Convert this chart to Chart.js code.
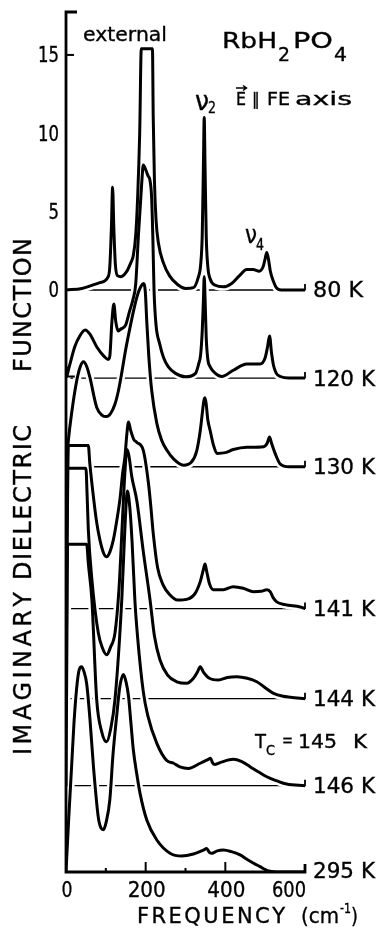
<!DOCTYPE html>
<html lang="en">
  <head>
    <meta charset="UTF-8" />
    <title>RbH2PO4 - imaginary dielectric function</title>
    <style>
      body {
        margin: 0;
        background: #fff;
      }
      canvas {
        display: block;
      }
    </style>
  </head>
  <body>
    <canvas id="spectra" width="385" height="928"></canvas>
    <script src="https://cdn.jsdelivr.net/npm/chart.js"></script>
    <script>
      // temperatures, one trace each, stacked with a baseline offset (in units of the 80 K scale)
      const temps = ["80 K", "120 K", "130 K", "141 K", "144 K", "146 K", "295 K"];
      const baselines = [0, -5.62, -11.28, -20.33, -26.08, -31.63, -37.14];

      // [frequency cm-1, eps'' above own baseline]
      const k80 = [[0,0],[40,0.1],[85,0.47],[106,0.85],[110,1.5],[114,4],[117,6.55],[120,4],[124,1.6],[130,0.9],[138,0.85],[152,1.17],[162,1.7],[169,2.2],[175,3.5],[180,6],[185,10],[189,15.4],[217,15.4],[219,11],[222,7],[226,4.5],[232,3.0],[245,1.7],[260,0.9],[280,0.35],[300,0.1],[320,0.15],[332,0.8],[338,1.6],[342,3.5],[345,8],[347,11],[349,8],[352,3.5],[356,1.5],[362,0.7],[375,0.3],[395,0.2],[415,0.4],[435,0.9],[454,1.3],[470,1.3],[485,1.2],[495,1.5],[500,2.0],[504,2.4],[508,2.0],[513,1.2],[520,0.6],[528,0.15],[540,0],[600,0]];
      const k120 = [[2,0.1],[10,0.9],[22,2.0],[35,2.7],[48,3.06],[60,2.8],[77,2.0],[95,1.4],[106,1.19],[110,1.4],[115,3.5],[120,4.72],[125,3.6],[131,3.0],[136,3.1],[150,3.4],[160,4.3],[168,5.0],[175,6.0],[182,9.2],[190,12.4],[194,13.6],[200,13.3],[206,12.9],[211,12.6],[215,11.5],[218,9],[221,5.6],[226,3.4],[235,2.2],[245,1.3],[257,0.72],[275,0.3],[300,0.08],[325,0.3],[333,0.9],[338,1.5],[342,3],[345,5],[347,6.46],[349,5.2],[352,2.6],[356,1.2],[362,0.72],[375,0.3],[391,0.1],[420,0.5],[454,0.9],[487,0.9],[500,1.3],[506,2.0],[511,2.68],[516,1.6],[521,0.8],[528,0.3],[538,0.1],[560,0],[600,0]];
      const k130 = [[0,0],[6,1.7],[14,3.4],[27,5.5],[36,6.4],[44,6.7],[52,6.4],[60,5.7],[77,3.8],[90,3.3],[102,3.2],[112,3.4],[123,4.0],[132,4.9],[140,6.0],[150,7.5],[160,8.8],[170,10],[180,11],[188,11.5],[194,11.7],[199,11.2],[203,9.15],[208,7],[215,4.9],[228,2.77],[240,1.7],[253,1.07],[270,0.5],[295,0.1],[315,0.3],[328,1.0],[337,2.3],[343,3.6],[346,4.2],[349,4.4],[352,4.0],[356,3.0],[362,2.3],[370,1.4],[379,0.85],[400,0.9],[420,1.1],[454,1.24],[496,1.28],[505,1.5],[511,1.9],[516,1.5],[525,0.85],[538,0.17],[560,0],[600,0]];
      const k141 = [[0,0],[3,5],[6,10.4],[56,10.4],[60,9.2],[69,7.1],[77,5.5],[85,4.4],[95,3.5],[102,3.3],[110,3.6],[119,4.4],[128,5.7],[136,7.1],[142,8.6],[148,9.7],[153,11.2],[157,11.9],[162,11.4],[170,10.8],[178,10.6],[194,10.1],[207,8.0],[213,6.5],[219,4.8],[230,2.6],[244,1.5],[260,0.9],[280,0.54],[305,0.6],[325,1.0],[338,1.8],[345,2.5],[349,2.84],[353,2.4],[360,1.6],[370,1.2],[395,1.2],[420,1.4],[445,1.3],[471,1.07],[490,1.1],[504,1.2],[512,1.1],[520,0.7],[529,0.43],[550,0.25],[588,0.1],[600,0]];
      const k144 = [[0,0],[2,7],[4,14.7],[50,14.7],[53,13],[56,10.8],[65,7.6],[81,4.2],[92,3.2],[102,2.8],[112,3.3],[123,4.2],[133,7],[141,11],[148,14.5],[153,15.9],[158,15.5],[165,14.2],[178,12.6],[194,9.4],[211,6.3],[222,4],[236,2.47],[255,1.5],[278,1.08],[303,0.98],[320,1.3],[330,1.7],[337,2.04],[345,1.7],[360,1.3],[383,1.19],[405,1.35],[429,1.4],[455,1.3],[479,1.08],[500,0.7],[521,0.34],[545,0.15],[563,0.09],[600,0]];
      const k146 = [[0,0],[2,8],[4,15.4],[52,15.4],[56,14.2],[65,11.85],[77,5.5],[90,3.4],[102,2.8],[112,3.6],[123,5.5],[140,11.85],[148,16.5],[154,18.8],[160,17.8],[166,15.5],[173,11.8],[180,9.4],[194,6.0],[205,4.5],[228,2.7],[253,1.6],[270,1.43],[286,1.2],[307,1.1],[337,1.43],[355,1.65],[363,1.75],[368,1.45],[374,1.35],[390,1.5],[420,1.68],[440,1.55],[462,1.21],[485,0.85],[504,0.57],[530,0.3],[554,0.1],[600,0]];
      const k295 = [[0,0],[7,3.5],[14,6.7],[20,9.5],[27,11.8],[33,12.9],[39,13.1],[45,12.8],[52,12.0],[60,9.8],[69,6.7],[81,3.5],[88,2.8],[94,2.7],[101,3.2],[110,4.6],[118,7.5],[127,9.9],[135,11.8],[144,12.6],[151,12.1],[157,11.2],[163,9.5],[169,7.8],[178,6.2],[186,5.0],[203,3.3],[228,2.04],[261,1.2],[290,1.02],[320,1.15],[345,1.4],[353,1.5],[360,1.25],[366,1.19],[380,1.35],[395,1.4],[415,1.3],[437,1.09],[455,0.8],[471,0.56],[487,0.34],[504,0.1],[521,0.02],[560,0],[600,0]];

      const xTicks = [0, 200, 400, 600];
      const xMinor = [100, 300, 500];
      const yTicks = [0, 5, 10, 15];

      const series = [k80, k120, k130, k141, k144, k146, k295];
      const FONT = "'DejaVu Sans', sans-serif";

      const datasets = [];
      series.forEach((pts, i) => {
        const toXY = () => pts.map(([f, e]) => ({ x: f, y: baselines[i] + e }));
        datasets.push({ label: temps[i], data: toXY(), borderColor: "#000", borderWidth: 3, order: 1 });
        // white halo so the thin baselines break where a trace crosses them
        datasets.push({ label: temps[i] + " gap", data: toXY(), borderColor: "#fff", borderWidth: 8, order: 2 });
        if (i < series.length - 1) {
          datasets.push({
            label: temps[i] + " base",
            data: [{ x: 0, y: baselines[i] }, { x: 600, y: baselines[i] }],
            borderColor: "#000",
            borderWidth: 1.3,
            cubicInterpolationMode: "default",
            tension: 0,
            order: 3,
          });
        }
      });

      // the old plotter lettering is a bit heavier than DejaVu Book
      function ink(ctx, txt, x, y) {
        ctx.fillText(txt, x, y);
        ctx.strokeText(txt, x, y);
      }

      // text squeezed/stretched to a given width, by = glyph bottom
      function fitText(ctx, txt, x, by, width, size, align = "left") {
        ctx.font = size + "px " + FONT;
        const w = ctx.measureText(txt).width;
        const left = align === "left" ? x : align === "right" ? x - width : x - width / 2;
        ctx.save();
        ctx.translate(left, by);
        ctx.scale(width / w, 1);
        ctx.textAlign = "left";
        ctx.textBaseline = "alphabetic";
        ctx.lineWidth = 0.35;
        ink(ctx, txt, 0, 0);
        ctx.restore();
      }

      // letter spaced text, spread over width
      function spacedText(ctx, txt, x, by, width, size) {
        ctx.font = size + "px " + FONT;
        ctx.textAlign = "left";
        ctx.textBaseline = "alphabetic";
        ctx.lineWidth = 0.35;
        const chars = [...txt];
        const total = chars.reduce((s, c) => s + ctx.measureText(c).width, 0);
        const gap = (width - total) / (chars.length - 1);
        let cx = x;
        chars.forEach((c) => {
          ink(ctx, c, cx, by);
          cx += ctx.measureText(c).width + gap;
        });
      }

      const decor = {
        id: "decor",
        afterDatasetsDraw(chart) {
          const { ctx } = chart;
          const xs = chart.scales.x;
          const ys = chart.scales.y;
          const px = (v) => xs.getPixelForValue(v);
          const py = (v) => ys.getPixelForValue(v);
          ctx.save();
          ctx.strokeStyle = "#000";
          ctx.fillStyle = "#000";

          // axis frame: left axis with top bracket, bottom axis
          ctx.lineWidth = 2.8;
          ctx.lineCap = "butt";
          ctx.beginPath();
          ctx.moveTo(px(0) + 11, py(ys.max));
          ctx.lineTo(px(0), py(ys.max));
          ctx.lineTo(px(0), py(ys.min));
          ctx.lineTo(px(600), py(ys.min));
          ctx.lineTo(px(600), py(ys.min) - 8);
          ctx.stroke();
          ctx.lineWidth = 2;
          ctx.beginPath();
          ctx.moveTo(px(0), py(15));
          ctx.lineTo(px(0) + 8, py(15));
          ctx.stroke();

          // x ticks
          ctx.lineWidth = 2;
          xTicks.slice(1, -1).forEach((v) => {
            ctx.beginPath();
            ctx.moveTo(px(v), py(ys.min));
            ctx.lineTo(px(v), py(ys.min) - 10);
            ctx.stroke();
          });
          xMinor.forEach((v) => {
            ctx.beginPath();
            ctx.moveTo(px(v), py(ys.min));
            ctx.lineTo(px(v), py(ys.min) - 4);
            ctx.stroke();
          });

          // end ticks of the baselines
          ctx.lineWidth = 1.8;
          baselines.slice(0, -1).forEach((b) => {
            ctx.beginPath();
            ctx.moveTo(px(600), py(b) + 0.5);
            ctx.lineTo(px(600), py(b) - 6);
            ctx.stroke();
          });

          // arrow at start of the 120 K trace
          const a0 = k120[0];
          const ax = px(a0[0]);
          const ay = py(baselines[1] + a0[1]);
          ctx.lineWidth = 2.2;
          ctx.beginPath();
          ctx.moveTo(ax, ay - 10);
          ctx.lineTo(ax, ay);
          ctx.lineTo(ax + 8, ay);
          ctx.stroke();

          // y tick labels
          yTicks.forEach((v) => {
            const t = String(v);
            fitText(ctx, t, px(0) - 7, py(v) + 7.5, t.length * 10.5, 20.5, "right");
          });

          // x tick labels
          xTicks.forEach((v) => {
            const t = String(v);
            if (v === 600) fitText(ctx, t, px(v) + 1, 897, 34, 21, "right");
            else fitText(ctx, t, px(v) + 1, 897, t.length === 1 ? 11 : 38, 21, "center");
          });

          // axis title
          spacedText(ctx, "FREQUENCY", 137, 923, 148, 21);
          fitText(ctx, "(cm", 301, 923, 38, 21);
          fitText(ctx, "-1", 340, 913, 11, 14);
          fitText(ctx, ")", 351, 923, 7, 21);

          // temperature labels
          temps.forEach((t, i) => {
            const by = i === temps.length - 1 ? 878 : py(baselines[i]) + 7.5;
            const w = t.length === 4 ? 50 : 62;
            fitText(ctx, t, px(600) + 8, by, w, 21);
          });

          // vertical title
          const vert = [["IMAGINARY", 755, 163], ["DIELECTRIC", 580, 155], ["FUNCTION", 372, 134]];
          vert.forEach(([t, y0, w]) => {
            ctx.save();
            ctx.translate(31, y0);
            ctx.rotate(-Math.PI / 2);
            spacedText(ctx, t, 0, 0, w, 24);
            ctx.restore();
          });

          // annotations
          fitText(ctx, "external", 83, 41, 84, 20);
          fitText(ctx, "RbH", 222, 48, 55, 22);
          fitText(ctx, "2", 278, 61, 12, 19);
          fitText(ctx, "PO", 293, 48, 40, 22);
          fitText(ctx, "4", 334, 61, 13, 19);

          fitText(ctx, "E", 236, 105, 10, 17);
          ctx.lineWidth = 1.5;
          ctx.beginPath();
          ctx.moveTo(236, 88);
          ctx.lineTo(246, 88);
          ctx.moveTo(243, 85.5);
          ctx.lineTo(246.5, 88);
          ctx.lineTo(243, 90.5);
          ctx.stroke();
          fitText(ctx, "\u2225", 252, 105, 8, 17);
          fitText(ctx, "FE", 267, 105, 23, 17);
          fitText(ctx, "axis", 295, 105, 57, 18);

          fitText(ctx, "\u03BD", 195, 110, 14, 26);
          fitText(ctx, "2", 208, 113, 8, 16);
          fitText(ctx, "\u03BD", 245, 243, 12, 24);
          fitText(ctx, "4", 256, 250, 8, 16);

          fitText(ctx, "T", 255, 748, 11, 20);
          fitText(ctx, "C", 266, 755, 9, 14);
          fitText(ctx, "=", 282, 746, 11, 18);
          fitText(ctx, "145", 298, 748, 39, 20);
          fitText(ctx, "K", 353, 748, 14, 20);

          ctx.restore();
        },
      };

      new Chart(document.getElementById("spectra"), {
        type: "line",
        data: { datasets },
        options: {
          responsive: false,
          animation: false,
          layout: { padding: { left: 66, right: 80, top: 12, bottom: 56 } },
          elements: {
            point: { radius: 0 },
            line: { cubicInterpolationMode: "monotone", borderJoinStyle: "round", borderCapStyle: "round", fill: false },
          },
          scales: {
            x: { type: "linear", min: 0, max: 600, display: false },
            y: { type: "linear", min: -37.14, max: 17.74, display: false },
          },
          plugins: { legend: { display: false }, tooltip: { enabled: false } },
        },
        plugins: [decor],
      });
    </script>
  </body>
</html>
